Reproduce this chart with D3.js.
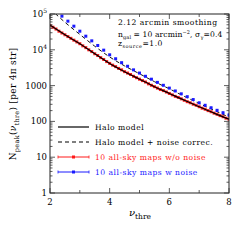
<!DOCTYPE html>
<html>
<head>
<meta charset="utf-8">
<script src="https://cdn.jsdelivr.net/npm/d3@7"></script>
<style>
  body { margin: 0; background: white; }
  text { font-family: 'DejaVu Serif', serif; }
</style>
</head>
<body>
<div id="chart"></div>
<script>
// halo model curves
const nuModel = [2, 2.5, 3, 3.5, 4, 4.5, 5, 5.5, 6, 6.5, 7, 7.5, 8]
const haloModel = [49000, 26300, 14800, 7760, 4170, 2450, 1510, 933, 603, 389, 257, 170, 115]
const haloNoise = [141000, 58900, 26900, 12600, 6310, 3550, 2140, 1290, 813, 501, 316, 204, 132]

// simulations without noise (step 0.1)
const nuRed = d3.range(61).map(i => 2 + i * 0.1)
const redVals = [47900, 42700, 38000, 33100, 29500, 26300, 23400, 20900, 18600, 16600,
  14800, 12900, 11500, 10000, 8910, 7760, 6920, 6030, 5370, 4680,
  4170, 3720, 3390, 3020, 2750, 2450, 2240, 2040, 1820, 1660,
  1510, 1380, 1260, 1120, 1020, 933, 851, 776, 724, 661,
  603, 550, 501, 468, 427, 389, 355, 331, 302, 282,
  257, 234, 219, 200, 186, 170, 158, 145, 135, 123, 115]

// simulations with noise (step 0.2)
const nuBlue = d3.range(29).map(i => 2.4 + i * 0.2)
const blueVals = [87100, 63100, 45700, 33100, 24000, 17800, 13200, 9770, 7240, 5620,
  4370, 3470, 2750, 2240, 1820, 1510, 1230, 1020, 851, 708,
  589, 490, 407, 331, 282, 240, 204, 174, 151]
const blueErr = [300, 250, 200, 160, 130, 100, 80, 65, 55, 45,
  40, 36, 33, 30, 28, 27, 26, 25, 25, 24,
  23, 22, 21, 20, 19, 18, 17, 16, 15]

const xTicks = [2, 4, 6, 8]
const xMinor = [3, 5, 7]
const yTicks = [1, 10, 100, 1000, 1e4, 1e5]
const yLabels = ['1', '10', '100', '1000', '10^4', '10^5']

const notes = ['2.12 arcmin smoothing', 'ngal', 'zsource']
const legendLabels = ['Halo model', 'Halo model + noise correc.', '10 all-sky maps w/o noise', '10 all-sky maps w noise']

const width = 240
const height = 240
const pLeft = 50, pRight = 229, pTop = 14, pBottom = 193

const svg = d3.select('#chart').append('svg')
  .attr('width', width)
  .attr('height', height)

svg.append('rect')
  .attr('width', width)
  .attr('height', height)
  .attr('fill', 'white')

const xScale = d3.scaleLinear().domain([2, 8]).range([pLeft, pRight])
const yScale = d3.scaleLog().domain([1, 1e5]).range([pBottom, pTop])

svg.append('defs').append('clipPath').attr('id', 'clip')
  .append('rect')
  .attr('x', pLeft).attr('y', pTop)
  .attr('width', pRight - pLeft).attr('height', pBottom - pTop)

const plot = svg.append('g').attr('clip-path', 'url(#clip)')

const valueline = d3.line()
  .x(d => xScale(d[0]))
  .y(d => yScale(d[1]))
  .curve(d3.curveMonotoneX)

// red points
redVals.forEach((v, i) => {
  plot.append('rect')
    .attr('x', xScale(nuRed[i]) - 1.5)
    .attr('y', yScale(v) - 1.5)
    .attr('width', 3)
    .attr('height', 3)
    .attr('fill', '#ff1a1a')
})

plot.append('path')
  .datum(nuModel.map((n, i) => [n, haloModel[i]]))
  .attr('d', valueline)
  .attr('fill', 'none')
  .attr('stroke', 'black')
  .attr('stroke-width', 1.2)

plot.append('path')
  .datum(nuModel.map((n, i) => [n, haloNoise[i]]))
  .attr('d', valueline)
  .attr('fill', 'none')
  .attr('stroke', '#111')
  .attr('stroke-width', 1)
  .attr('stroke-dasharray', '4,3')

// blue points with error bars
blueVals.forEach((v, i) => {
  const x = xScale(nuBlue[i])
  plot.append('line')
    .attr('x1', x).attr('x2', x)
    .attr('y1', yScale(v - blueErr[i]))
    .attr('y2', yScale(v + blueErr[i]))
    .attr('stroke', '#1a1aff')
    .attr('stroke-width', 1.4)
  plot.append('rect')
    .attr('x', x - 1.5)
    .attr('y', yScale(v) - 1.5)
    .attr('width', 3)
    .attr('height', 3)
    .attr('fill', '#1a1aff')
})

// frame
svg.append('rect')
  .attr('x', pLeft).attr('y', pTop)
  .attr('width', pRight - pLeft).attr('height', pBottom - pTop)
  .attr('fill', 'none')
  .attr('stroke', '#222')
  .attr('stroke-width', 1)

// ticks, inside on all sides
const tickColor = '#333'
xTicks.concat(xMinor).forEach(t => {
  const len = xTicks.includes(t) ? 5 : 3
  const x = xScale(t)
  svg.append('line').attr('x1', x).attr('x2', x).attr('y1', pBottom).attr('y2', pBottom - len)
    .attr('stroke', tickColor).attr('stroke-width', 0.8)
  svg.append('line').attr('x1', x).attr('x2', x).attr('y1', pTop).attr('y2', pTop + len)
    .attr('stroke', tickColor).attr('stroke-width', 0.8)
})
xTicks.forEach(t => {
  svg.append('text')
    .attr('x', xScale(t))
    .attr('y', pBottom + 12)
    .attr('text-anchor', 'middle')
    .attr('font-size', 8.5)
    .text(t)
})

const yMinor = []
for (let d = 1; d < 1e5; d *= 10) {
  for (let k = 2; k <= 9; k++) yMinor.push(d * k)
}
yTicks.concat(yMinor).forEach(t => {
  const len = yTicks.includes(t) ? 5 : 2.5
  const y = yScale(t)
  svg.append('line').attr('x1', pLeft).attr('x2', pLeft + len).attr('y1', y).attr('y2', y)
    .attr('stroke', tickColor).attr('stroke-width', 0.8)
  svg.append('line').attr('x1', pRight).attr('x2', pRight - len).attr('y1', y).attr('y2', y)
    .attr('stroke', tickColor).attr('stroke-width', 0.8)
})
yTicks.forEach((t, i) => {
  const txt = svg.append('text')
    .attr('x', pLeft - 3)
    .attr('y', yScale(t) + 3)
    .attr('text-anchor', 'end')
    .attr('font-size', 8.5)
  const lab = yLabels[i]
  if (lab.includes('^')) {
    const parts = lab.split('^')
    txt.append('tspan').text(parts[0])
    txt.append('tspan').attr('dy', -4).attr('font-size', 6).text(parts[1])
  } else {
    txt.text(lab)
  }
})

// axis labels
const xl = svg.append('text')
  .attr('x', 129)
  .attr('y', 216)
  .attr('font-size', 10)
xl.append('tspan').attr('font-style', 'italic').text('ν')
xl.append('tspan').attr('dy', 3).attr('font-size', 7.5).text('thre')

const yl = svg.append('text')
  .attr('transform', 'translate(16,104) rotate(-90)')
  .attr('text-anchor', 'middle')
  .attr('font-size', 9)
  .attr('letter-spacing', 0.3)
yl.append('tspan').text('N')
yl.append('tspan').attr('dy', 2.5).attr('font-size', 6.5).text('peak')
yl.append('tspan').attr('dy', -2.5).text('(')
yl.append('tspan').attr('font-style', 'italic').text('ν')
yl.append('tspan').attr('dy', 2.5).attr('font-size', 6.5).text('thre')
yl.append('tspan').attr('dy', -2.5).text(') [per 4π str]')

// annotations
const noteFont = 7.6
const noteSpacing = 0.5
svg.append('text')
  .attr('x', 118).attr('y', 25)
  .attr('font-size', noteFont)
  .attr('letter-spacing', noteSpacing)
  .text(notes[0])
const n2 = svg.append('text')
  .attr('x', 118).attr('y', 37)
  .attr('font-size', noteFont)
  .attr('letter-spacing', 0.1)
n2.append('tspan').text('n')
n2.append('tspan').attr('dy', 2).attr('font-size', 5).text('gal')
n2.append('tspan').attr('dy', -2).text(' = 10 arcmin')
n2.append('tspan').attr('dy', -3).attr('font-size', 5).text('−2')
n2.append('tspan').attr('dy', 3).text(', σ')
n2.append('tspan').attr('dy', 2).attr('font-size', 5).text('γ')
n2.append('tspan').attr('dy', -2).text('=0.4')
const n3 = svg.append('text')
  .attr('x', 118).attr('y', 46)
  .attr('font-size', noteFont)
  .attr('letter-spacing', noteSpacing)
n3.append('tspan').text('z')
n3.append('tspan').attr('dy', 2).attr('font-size', 5).text('source')
n3.append('tspan').attr('dy', -2).text('=1.0')

// legend
const legendY = [127, 142, 157, 172]
const legendColor = ['black', 'black', '#ff1a1a', '#1a1aff']
legendLabels.forEach((lab, i) => {
  const y = legendY[i]
  svg.append('line')
    .attr('x1', 58).attr('x2', 89)
    .attr('y1', y).attr('y2', y)
    .attr('stroke', legendColor[i])
    .attr('stroke-width', i < 2 ? 1.2 : 1)
    .attr('stroke-dasharray', i === 1 ? '4,3' : null)
  if (i >= 2) {
    svg.append('rect').attr('x', 72).attr('y', y - 1.5).attr('width', 3).attr('height', 3)
      .attr('fill', legendColor[i])
    ;[58, 89].forEach(x => {
      svg.append('line').attr('x1', x).attr('x2', x).attr('y1', y - 1.5).attr('y2', y + 1.5)
        .attr('stroke', legendColor[i]).attr('stroke-width', 0.8)
    })
  }
  svg.append('text')
    .attr('x', 95).attr('y', y + 2.5)
    .attr('font-size', noteFont)
    .attr('letter-spacing', noteSpacing)
    .attr('fill', legendColor[i])
    .text(lab)
})
</script>
</body>
</html>
